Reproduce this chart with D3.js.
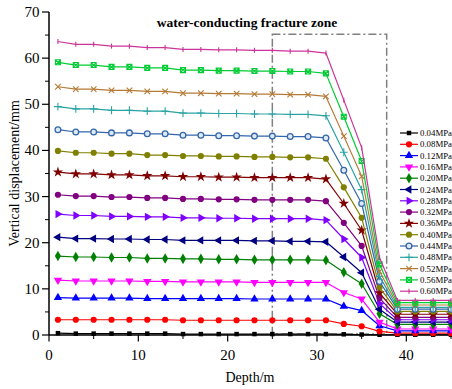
<!DOCTYPE html>
<html>
<head>
<meta charset="utf-8">
<script src="https://cdn.jsdelivr.net/npm/d3@7"></script>
<style>
  body { margin: 0; background: #fff; }
  svg { display: block; font-family: "Liberation Serif", "Times New Roman", serif; }
</style>
</head>
<body>
<svg id="chart" width="452" height="389"></svg>
<script>
// depth of each measuring point (m)
const depth = [1, 3, 5, 7, 9, 11, 13, 15, 17, 19, 21, 23, 25, 27, 29, 31, 33, 35, 37, 39, 41, 43, 45];
const pressures = ["0.04MPa", "0.08MPa", "0.12MPa", "0.16MPa", "0.20MPa", "0.24MPa", "0.28MPa", "0.32MPa",
  "0.36MPa", "0.40MPa", "0.44MPa", "0.48MPa", "0.52MPa", "0.56MPa", "0.60MPa"];

// vertical displacement (mm), one row per pressure
const displacement = [
  [0.4, 0.3, 0.3, 0.3, 0.3, 0.3, 0.3, 0.2, 0.2, 0.2, 0.2, 0.2, 0.2, 0.2, 0.2, 0.2, 0.15, 0.1, 0.05, 0.05, 0.05, 0.05, 0.05],
  [3.3, 3.3, 3.3, 3.3, 3.3, 3.3, 3.3, 3.2, 3.2, 3.2, 3.2, 3.2, 3.2, 3.2, 3.2, 3.2, 2.4, 1.9, 0.8, 0.4, 0.4, 0.4, 0.4],
  [8.1, 8.0, 8.0, 8.0, 8.0, 7.9, 7.9, 7.9, 7.9, 7.9, 7.9, 7.8, 7.8, 7.8, 7.8, 7.8, 6.2, 5.3, 2.0, 0.9, 0.9, 0.9, 0.9],
  [11.9, 11.7, 11.7, 11.7, 11.7, 11.6, 11.6, 11.5, 11.5, 11.5, 11.5, 11.4, 11.4, 11.4, 11.4, 11.4, 9.2, 7.8, 2.8, 1.3, 1.3, 1.3, 1.3],
  [17.1, 16.9, 16.9, 16.8, 16.8, 16.6, 16.6, 16.5, 16.5, 16.4, 16.4, 16.3, 16.3, 16.3, 16.3, 16.2, 13.6, 11.1, 4.6, 2.3, 2.3, 2.3, 2.3],
  [21.2, 20.9, 20.9, 20.8, 20.8, 20.7, 20.7, 20.5, 20.5, 20.5, 20.5, 20.4, 20.4, 20.3, 20.3, 20.2, 16.9, 13.5, 5.6, 2.8, 2.8, 2.8, 2.8],
  [26.2, 25.9, 25.9, 25.7, 25.7, 25.6, 25.6, 25.4, 25.4, 25.3, 25.3, 25.2, 25.2, 25.2, 25.2, 24.9, 20.8, 16.8, 6.8, 3.3, 3.3, 3.3, 3.3],
  [30.4, 30.1, 30.1, 29.9, 29.9, 29.7, 29.7, 29.5, 29.5, 29.4, 29.4, 29.3, 29.3, 29.3, 29.3, 29.0, 24.3, 19.3, 8.0, 3.8, 3.8, 3.8, 3.8],
  [35.3, 34.9, 34.9, 34.7, 34.7, 34.5, 34.5, 34.3, 34.3, 34.2, 34.2, 34.1, 34.1, 34.1, 34.1, 33.8, 28.5, 22.7, 9.1, 4.5, 4.5, 4.5, 4.5],
  [39.9, 39.5, 39.5, 39.3, 39.3, 39.0, 39.0, 38.8, 38.8, 38.7, 38.7, 38.6, 38.6, 38.5, 38.5, 38.2, 32.0, 25.4, 10.3, 5.1, 5.1, 5.1, 5.1],
  [44.5, 44.0, 44.0, 43.8, 43.8, 43.6, 43.6, 43.3, 43.3, 43.2, 43.2, 43.1, 43.1, 43.0, 43.0, 42.7, 35.7, 28.5, 11.6, 5.6, 5.6, 5.6, 5.6],
  [49.5, 49.0, 49.0, 48.7, 48.7, 48.5, 48.5, 48.1, 48.1, 48.0, 48.0, 47.9, 47.9, 47.8, 47.8, 47.5, 39.6, 31.5, 12.7, 6.0, 6.0, 6.0, 6.0],
  [53.8, 53.3, 53.3, 53.0, 53.0, 52.8, 52.8, 52.4, 52.4, 52.3, 52.3, 52.2, 52.2, 52.1, 52.1, 51.7, 43.1, 34.4, 13.8, 6.5, 6.5, 6.5, 6.5],
  [59.1, 58.5, 58.5, 58.1, 58.1, 57.9, 57.9, 57.4, 57.4, 57.3, 57.3, 57.2, 57.2, 57.1, 57.1, 56.7, 47.3, 37.7, 15.3, 7.0, 7.0, 7.0, 7.0],
  [63.6, 63.0, 63.0, 62.6, 62.6, 62.3, 62.3, 61.9, 61.9, 61.8, 61.8, 61.7, 61.7, 61.5, 61.5, 61.1, 50.9, 40.6, 16.8, 7.5, 7.5, 7.5, 7.5],
];

// water-conducting fracture zone box: depth range and top value
const zoneDepth = [25, 37.8];
const zoneTop = 65.2;

const xTicks = [0, 10, 20, 30, 40];
const yTicks = [0, 10, 20, 30, 40, 50, 60, 70];

const colors = ["#000000", "#ff0000", "#0000ff", "#ff00ff", "#008000", "#000080", "#8000ff", "#800080",
  "#800000", "#808000", "#3366aa", "#2aa3a3", "#b57a36", "#00cc33", "#cc3399"];
const shapes = ["square", "circle", "up", "down", "diamond", "left", "right", "circle",
  "star", "circle", "open", "plus", "times", "boxx", "bar"];

const svg = d3.select("#chart");
const x = d3.scaleLinear().domain([0, 45]).range([49, 451]);
const y = d3.scaleLinear().domain([0, 70]).range([335, 12]);

// marker: returns {d, rot, filled}
const marker = (kind) => {
  const s = (t, size) => d3.symbol(t, size)();
  switch (kind) {
    case "square": return { d: s(d3.symbolSquare, 20), rot: 0, filled: true };
    case "circle": return { d: s(d3.symbolCircle, 30), rot: 0, filled: true };
    case "up": return { d: s(d3.symbolTriangle, 30), rot: 0, filled: true };
    case "down": return { d: s(d3.symbolTriangle, 30), rot: 180, filled: true };
    case "left": return { d: s(d3.symbolTriangle, 30), rot: -90, filled: true };
    case "right": return { d: s(d3.symbolTriangle, 30), rot: 90, filled: true };
    case "diamond": return { d: s(d3.symbolDiamond, 32), rot: 0, filled: true };
    case "star": return { d: s(d3.symbolStar, 34), rot: 0, filled: true };
    case "open": return { d: s(d3.symbolCircle, 26), rot: 0, filled: false, open: true };
    case "plus": return { d: s(d3.symbolPlus, 22), rot: 0, filled: false };
    case "times": return { d: s(d3.symbolTimes, 22), rot: 0, filled: false };
    case "boxx": return { d: "M-2.5,-2.5H2.5V2.5H-2.5ZM-2.5,-2.5L2.5,2.5M2.5,-2.5L-2.5,2.5", rot: 0, filled: false };
    default: return { d: "M0,-2.5V2.5", rot: 0, filled: false };
  }
};

const drawMarker = (g, kind, color, cx, cy) => {
  const m = marker(kind);
  g.append("path")
    .attr("d", m.d)
    .attr("transform", `translate(${cx},${cy}) rotate(${m.rot})`)
    .attr("fill", m.filled ? color : m.open ? "#dfe8f5" : "none")
    .attr("stroke", m.filled ? "none" : color)
    .attr("stroke-width", m.open ? 1.3 : 1.1);
};

// axes
const xAxis = svg.append("g").attr("transform", `translate(0,${y(0)})`);
xAxis.append("line").attr("x1", 49).attr("x2", 452).attr("stroke", "#000").attr("stroke-width", 1.5);
xAxis.selectAll(".minor").data(d3.range(5, 46, 10)).join("line")
  .attr("x1", x).attr("x2", x).attr("y2", 4).attr("stroke", "#000");
xAxis.selectAll(".major").data(xTicks).join("line")
  .attr("x1", x).attr("x2", x).attr("y2", 6.5).attr("stroke", "#000").attr("stroke-width", 1.2);
xAxis.selectAll("text").data(xTicks).join("text")
  .attr("x", x).attr("y", 25).attr("text-anchor", "middle").attr("font-size", 15).text((d) => d);

const yAxis = svg.append("g").attr("transform", `translate(${x(0)},0)`);
yAxis.append("line").attr("y1", y(0)).attr("y2", y(70)).attr("stroke", "#000").attr("stroke-width", 1.5);
yAxis.selectAll(".minor").data(d3.range(5, 70, 10)).join("line")
  .attr("y1", y).attr("y2", y).attr("x2", -4).attr("stroke", "#000");
yAxis.selectAll(".major").data(yTicks).join("line")
  .attr("y1", y).attr("y2", y).attr("x2", -7).attr("stroke", "#000").attr("stroke-width", 1.2);
yAxis.selectAll("text").data(yTicks).join("text")
  .attr("x", -9.5).attr("y", (d) => y(d) + 5).attr("text-anchor", "end").attr("font-size", 15).text((d) => d);

svg.append("text").attr("x", 250).attr("y", 382).attr("text-anchor", "middle")
  .attr("font-size", 14).text("Depth/m");
svg.append("text").attr("transform", `translate(19,${(y(0) + y(70)) / 2}) rotate(-90)`)
  .attr("text-anchor", "middle").attr("font-size", 14).text("Vertical displacement/mm");

svg.append("text").attr("x", 247).attr("y", 27).attr("text-anchor", "middle")
  .attr("font-size", 13.5).attr("font-weight", "bold").text("water-conducting fracture zone");

// fracture zone box
svg.append("rect")
  .attr("x", x(zoneDepth[0])).attr("y", y(zoneTop))
  .attr("width", x(zoneDepth[1]) - x(zoneDepth[0])).attr("height", y(0.2) - y(zoneTop))
  .attr("fill", "none").attr("stroke", "#808080").attr("stroke-width", 1.5)
  .attr("stroke-dasharray", "8,3,2,3");

// series
const line = d3.line().x((d) => x(d[0])).y((d) => y(d[1]));
displacement.forEach((vals, i) => {
  const pts = depth.map((d, j) => [d, vals[j]]);
  const g = svg.append("g");
  g.append("path").attr("d", line(pts)).attr("fill", "none")
    .attr("stroke", colors[i]).attr("stroke-width", 1.2).attr("stroke-linejoin", "round");
  pts.forEach((p) => drawMarker(g, shapes[i], colors[i], x(p[0]), y(p[1])));
});

// legend
const legend = svg.append("g");
pressures.forEach((name, i) => {
  const ly = 133 + i * 11.3;
  legend.append("line").attr("x1", 400).attr("x2", 418).attr("y1", ly).attr("y2", ly)
    .attr("stroke", colors[i]).attr("stroke-width", 1.2);
  drawMarker(legend, shapes[i], colors[i], 409, ly);
  legend.append("text").attr("x", 420).attr("y", ly + 3).attr("font-size", 8.8).text(name);
});
</script>
</body>
</html>
